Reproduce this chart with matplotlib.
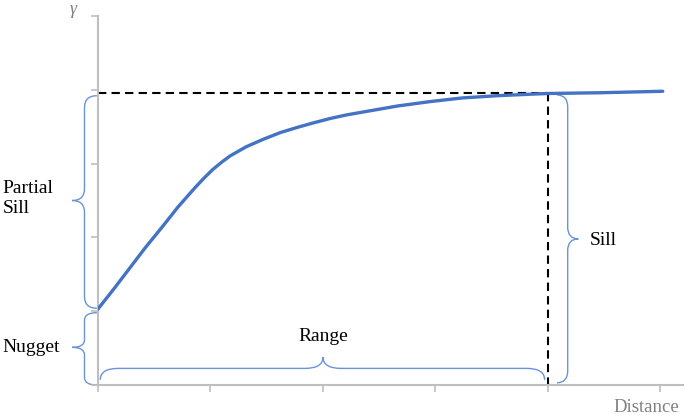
import matplotlib
matplotlib.use("Agg")
import matplotlib.pyplot as plt
from matplotlib.path import Path
from matplotlib.patches import PathPatch

# semivariogram curve
dist = [0.0, 0.15, 0.27, 0.42, 0.57, 0.71, 0.86, 0.94, 1.02, 1.10, 1.17, 1.25, 1.32, 1.47,
        1.62, 1.77, 1.91, 2.06, 2.21, 2.36, 2.51, 2.66, 2.95, 3.24, 3.55, 3.84, 4.0, 4.46, 5.02]
gamma = [1.03, 1.32, 1.56, 1.86, 2.14, 2.41, 2.67, 2.80, 2.92, 3.02, 3.10, 3.17, 3.23, 3.33,
         3.42, 3.49, 3.55, 3.61, 3.66, 3.70, 3.74, 3.78, 3.84, 3.89, 3.92, 3.94, 3.95, 3.96, 3.98]

nugget = 1.0
sill = 3.96
rng = 4.0

x_ticks = [0, 1, 2, 3, 4, 5]
y_ticks = [0, 1, 2, 3, 4, 5]

curve_col = "#4472c4"
brace_col = "#6a93d8"
axis_col = "#bfbfbf"
serif = "Liberation Serif"


def brace_v(ax, x, y0, y1, w, r, ym=None):
    # vertical curly brace, w<0 points left
    if ym is None:
        ym = (y0 + y1) / 2
    if y1 < y0:
        r = -r
    h = x + w / 2
    verts = [(x, y0), (h, y0), (h, y0 + r),
             (h, ym - r),
             (h, ym), (x + w, ym),
             (h, ym), (h, ym + r),
             (h, y1 - r),
             (h, y1), (x, y1)]
    codes = [Path.MOVETO, Path.CURVE3, Path.CURVE3,
             Path.LINETO,
             Path.CURVE3, Path.CURVE3,
             Path.CURVE3, Path.CURVE3,
             Path.LINETO,
             Path.CURVE3, Path.CURVE3]
    ax.add_patch(PathPatch(Path(verts, codes), fill=False, ec=brace_col, lw=1.0, clip_on=False))


def brace_h(ax, y, x0, x1, h, r, xm=None):
    # horizontal curly brace, h>0 points up
    if xm is None:
        xm = (x0 + x1) / 2
    m = y + h / 2
    verts = [(x0, y), (x0, m), (x0 + r, m),
             (xm - r, m),
             (xm, m), (xm, y + h),
             (xm, m), (xm + r, m),
             (x1 - r, m),
             (x1, m), (x1, y)]
    codes = [Path.MOVETO, Path.CURVE3, Path.CURVE3,
             Path.LINETO,
             Path.CURVE3, Path.CURVE3,
             Path.CURVE3, Path.CURVE3,
             Path.LINETO,
             Path.CURVE3, Path.CURVE3]
    ax.add_patch(PathPatch(Path(verts, codes), fill=False, ec=brace_col, lw=1.0, clip_on=False))


fig = plt.figure(figsize=(6.85, 4.18), dpi=100)
ax = fig.add_axes([98 / 685, 33 / 418, 585 / 685, 369 / 418])

ax.plot(dist, gamma, color=curve_col, lw=2.4, solid_capstyle="round",
        solid_joinstyle="round", zorder=3)

ax.plot([0, rng], [sill, sill], color="black", lw=1.5, ls=(0, (4, 2.5)), zorder=2)
ax.plot([rng, rng], [sill, 0], color="black", lw=1.5, ls=(0, (4, 2.5)), zorder=2)

ax.set_xlim(0, 5.2)
ax.set_ylim(0, 5)
ax.set_xticks(x_ticks)
ax.set_yticks(y_ticks)
ax.set_xticklabels([])
ax.set_yticklabels([])
ax.tick_params(colors=axis_col, length=5, width=1.2)
for s in ["top", "right"]:
    ax.spines[s].set_visible(False)
for s in ["left", "bottom"]:
    ax.spines[s].set_color(axis_col)
    ax.spines[s].set_linewidth(1.5)

# braces
brace_v(ax, -0.01, sill - 0.04, nugget + 0.04, -0.22, 0.16, ym=2.5)
brace_v(ax, -0.01, nugget - 0.02, 0.0, -0.22, 0.1, ym=0.51)
brace_v(ax, rng + 0.08, sill - 0.03, 0.03, 0.19, 0.16)
brace_h(ax, 0.07, 0.02, rng - 0.03, 0.31, 0.16, xm=rng / 2)

ax.text(-0.85, 2.53, "Partial\nSill", fontsize=14, family=serif, va="center", ha="left",
        linespacing=1.2)
ax.text(-0.85, 0.51, "Nugget", fontsize=14, family=serif, va="center", ha="left")
ax.text(rng / 2, 0.66, "Range", fontsize=14, family=serif, va="center", ha="center")
ax.text(4.37, 1.96, "Sill", fontsize=14, family=serif, va="center", ha="left")

fig.text(70 / 685, 1 - 10 / 418, "\u03b3", fontsize=13, family=serif, style="italic",
         color="#808080", va="center", ha="left")
fig.text(646 / 685, 1 - 408 / 418, "Distance", fontsize=13.5, family=serif, color="#808080",
         va="center", ha="center")

fig.savefig("out.png", dpi=100)
